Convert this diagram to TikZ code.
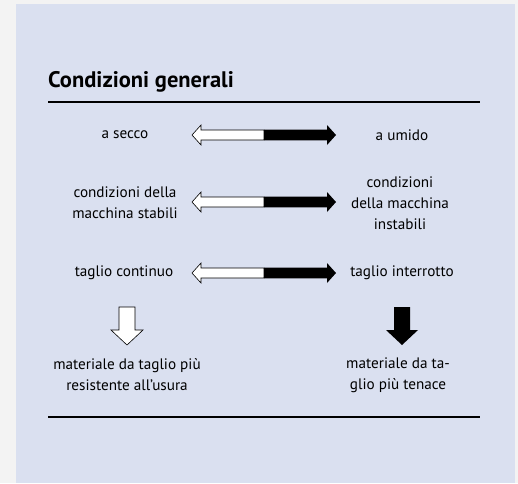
\documentclass[tikz,border=0pt]{standalone}
\usepackage{fontspec}
\setmainfont{PT Sans}
\usepackage{tikz}
\usetikzlibrary{positioning, calc}
\definecolor{pagegray}{RGB}{243, 243, 243}
\definecolor{panelblue}{RGB}{218, 224, 240}

\begin{document}
\begin{tikzpicture}[x=1pt, y=-1pt,
  every node/.style={font=\fontsize{15.2}{21}\selectfont, inner sep=0pt},
  label/.style={align=center},
  rule/.style={line width=2pt, black}]
  % ── Background + panel ──────────────────────────────────────────
  \fill[pagegray] (0,0) rectangle (518,483);
  \fill[panelblue] (16,4) rectangle (515,483);
  \useasboundingbox (0,0) rectangle (518,483);

  % ── Title + rules ───────────────────────────────────────────────
  \node[anchor=base west, font=\fontsize{22.5}{26}\selectfont\bfseries] (title) at (48,87) {Condizioni generali};
  \coordinate (ruleA-l) at (48,102);  \coordinate (ruleA-r) at (480,102);
  \coordinate (ruleB-l) at (48,417);  \coordinate (ruleB-r) at (480,417);
  \draw[rule] (ruleA-l) -- (ruleA-r);
  \draw[rule] (ruleB-l) -- (ruleB-r);

  % ── Left / right conditions ─────────────────────────────────────
  \node[label] (secco)  at (125,135) {a secco};
  \node[label] (umido)  at (402,135) {a umido};
  \node[label] (stab)   at (125,203) {condizioni della\\macchina stabili};
  \node[label] (instab) at (400,203) {condizioni\\della macchina\\instabili};
  \node[label] (cont)   at (124,273) {taglio continuo};
  \node[label] (interr) at (402,273) {taglio interrotto};

  % ── Two-tone arrows (white left half, black right half) ─────────
  \foreach \y in {135, 202, 273}{
    \draw[fill=white, line width=0.6pt] (192,\y) -- (201,\y-10) -- (201,\y-5) -- (264,\y-5)
      -- (264,\y+5) -- (201,\y+5) -- (201,\y+10) -- cycle;
    \fill[black] (264,\y-5.3) -- (327,\y-5.3) -- (327,\y-10) -- (336,\y) -- (327,\y+10)
      -- (327,\y+5.3) -- (264,\y+5.3) -- cycle;
  }

  % ── Down arrows ─────────────────────────────────────────────────
  \draw[fill=white, line width=0.6pt] (119,307) -- (135,307) -- (135,330) -- (143,330)
    -- (127,345) -- (111,330) -- (119,330) -- cycle;
  \fill[black] (394,307) -- (410,307) -- (410,330) -- (418,330)
    -- (402,345) -- (386,330) -- (394,330) -- cycle;

  % ── Results ─────────────────────────────────────────────────────
  \node[label] (wear)  at (127,375) {materiale da taglio più\\resistente all’usura};
  \node[label] (tough) at (398,375) {materiale da ta-\\glio più tenace};
\end{tikzpicture}
\end{document}
